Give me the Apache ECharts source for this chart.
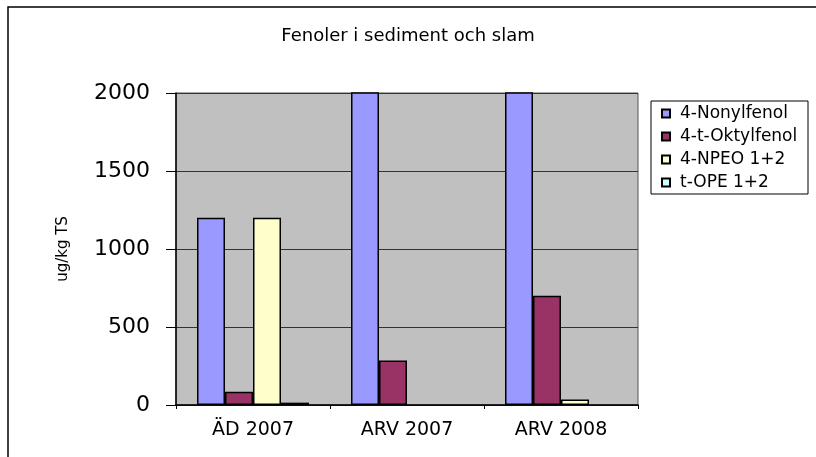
<!DOCTYPE html>
<html>
<head>
<meta charset="utf-8">
<script src="https://cdn.jsdelivr.net/npm/echarts@6/dist/echarts.min.js"></script>
<style>
	html, body { margin: 0; padding: 0; background: #fff; }
	#chart { width: 816px; height: 457px; }
</style>
</head>
<body>
<div id="chart"></div>
<script>
// data (two Nonylfenol bars run off the top of the scale)
const categories = ["ÄD 2007", "ARV 2007", "ARV 2008"];
const nonylfenol = [1200, 5300, 3900];
const oktylfenol = [85, 285, 700];
const npeo = [1200, null, 35];
const tope = [15, null, null];
const yTicks = { min: 0, max: 2000, interval: 500 };

const font = "DejaVu Sans";
const chart = echarts.init(document.getElementById("chart"));

function bar(name, data, color) {
	return {
		name: name,
		type: "bar",
		data: data,
		barWidth: 28,
		barGap: "0%",
		clip: true,
		itemStyle: {
			color: color,
			borderColor: "#000",
			borderWidth: 1.5
		}
	};
}

let option = {
	animation: false,
	backgroundColor: "#fff",
	title: {
		text: "Fenoler i sediment och slam",
		left: "center",
		top: 22,
		textStyle: {
			fontFamily: font,
			fontSize: 18,
			fontWeight: "normal",
			color: "#000"
		}
	},
	graphic: [
		{
			type: "rect",
			shape: { x: 8, y: 7, width: 830, height: 470 },
			style: { fill: "none", stroke: "#000", lineWidth: 1.5 },
			silent: true
		},
		{
			type: "rect",
			shape: { x: 651, y: 101, width: 157, height: 93 },
			style: { fill: "#fff", stroke: "#000", lineWidth: 1 },
			silent: true
		}
	],
	legend: {
		orient: "vertical",
		left: 661,
		top: 105,
		padding: 0,
		itemWidth: 8,
		itemHeight: 8,
		itemGap: 6,
		icon: "rect",
		textStyle: {
			fontFamily: font,
			fontSize: 17,
			lineHeight: 14,
			color: "#000",
			padding: [0, 0, 0, 5]
		}
	},
	grid: {
		left: 176,
		right: 178,
		top: 93,
		bottom: 52,
		show: true,
		backgroundColor: "#c0c0c0",
		borderColor: "#555",
		borderWidth: 1
	},
	xAxis: {
		type: "category",
		data: categories,
		axisLine: { lineStyle: { color: "#000", width: 1.5 } },
		axisTick: { show: true, length: 4, lineStyle: { color: "#000" } },
		axisLabel: {
			fontFamily: font,
			fontSize: 19,
			color: "#000",
			margin: 16
		}
	},
	yAxis: {
		type: "value",
		min: yTicks.min,
		max: yTicks.max,
		interval: yTicks.interval,
		name: "ug/kg TS",
		nameLocation: "middle",
		nameRotate: 90,
		nameGap: 105,
		nameTextStyle: {
			fontFamily: font,
			fontSize: 15,
			color: "#000"
		},
		axisLine: { show: true, lineStyle: { color: "#000", width: 1.5 } },
		axisTick: { show: true, length: 10, lineStyle: { color: "#000" } },
		axisLabel: {
			fontFamily: font,
			fontSize: 22,
			color: "#000",
			margin: 26,
			formatter: (v) => String(v)
		},
		splitLine: { lineStyle: { color: "#333", width: 1 } }
	},
	series: [
		bar("4-Nonylfenol", nonylfenol, "#9999ff"),
		bar("4-t-Oktylfenol", oktylfenol, "#993366"),
		bar("4-NPEO 1+2", npeo, "#ffffcc"),
		bar("t-OPE 1+2", tope, "#ccffff")
	]
};

option && chart.setOption(option);
</script>
</body>
</html>
